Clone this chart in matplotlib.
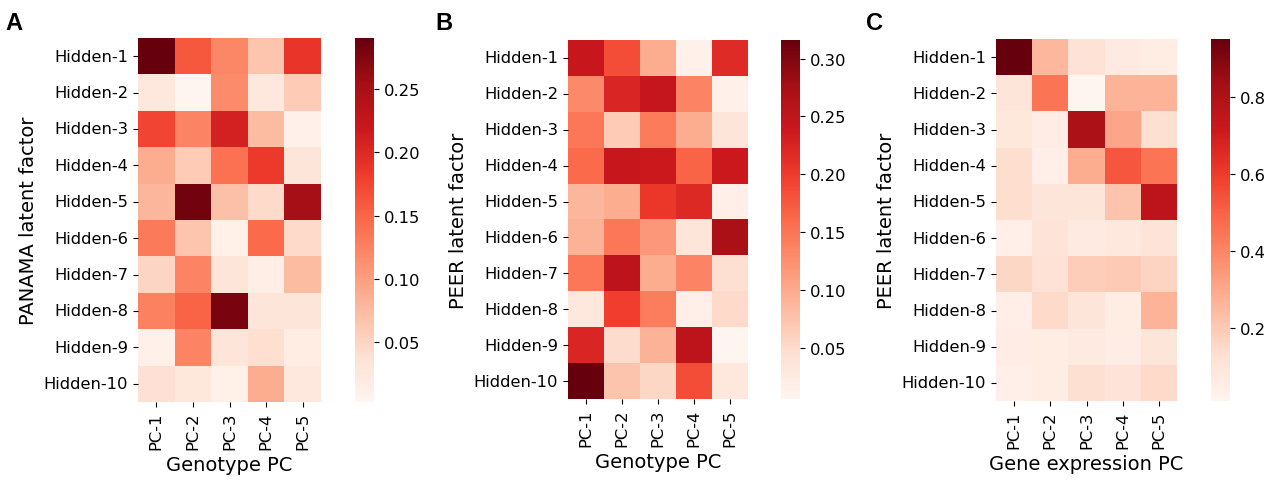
import matplotlib
matplotlib.use("Agg")
import matplotlib.pyplot as plt
import numpy as np
import pandas as pd
import seaborn as sns

factors = [f"Hidden-{i}" for i in range(1, 11)]
pcs = ["PC-1", "PC-2", "PC-3", "PC-4", "PC-5"]

# A: PANAMA latent factors vs genotype PCs
panama_geno = [
    [0.290, 0.160, 0.120, 0.065, 0.190],
    [0.025, 0.003, 0.117, 0.025, 0.060],
    [0.175, 0.123, 0.210, 0.074, 0.010],
    [0.088, 0.060, 0.140, 0.184, 0.030],
    [0.080, 0.284, 0.071, 0.045, 0.252],
    [0.132, 0.065, 0.013, 0.146, 0.045],
    [0.050, 0.123, 0.031, 0.016, 0.074],
    [0.126, 0.152, 0.279, 0.031, 0.031],
    [0.010, 0.123, 0.031, 0.040, 0.019],
    [0.037, 0.028, 0.013, 0.088, 0.025],
]

# B: PEER latent factors vs genotype PCs
peer_geno = [
    [0.242, 0.186, 0.098, 0.014, 0.217],
    [0.130, 0.223, 0.245, 0.136, 0.014],
    [0.148, 0.067, 0.145, 0.098, 0.036],
    [0.160, 0.242, 0.239, 0.167, 0.239],
    [0.089, 0.098, 0.204, 0.220, 0.017],
    [0.092, 0.148, 0.117, 0.036, 0.270],
    [0.148, 0.254, 0.098, 0.136, 0.045],
    [0.030, 0.198, 0.142, 0.017, 0.052],
    [0.223, 0.049, 0.092, 0.254, 0.006],
    [0.316, 0.074, 0.055, 0.186, 0.030],
]

# C: PEER latent factors vs gene expression PCs
peer_expr = [
    [0.950, 0.260, 0.120, 0.075, 0.066],
    [0.100, 0.450, 0.012, 0.270, 0.270],
    [0.094, 0.057, 0.810, 0.310, 0.130],
    [0.140, 0.048, 0.290, 0.530, 0.450],
    [0.140, 0.100, 0.100, 0.220, 0.760],
    [0.048, 0.110, 0.075, 0.085, 0.110],
    [0.160, 0.120, 0.190, 0.200, 0.170],
    [0.050, 0.150, 0.100, 0.066, 0.270],
    [0.057, 0.066, 0.075, 0.057, 0.100],
    [0.048, 0.066, 0.130, 0.110, 0.150],
]

panels = [
    ("A", panama_geno, "PANAMA latent factor", "Genotype PC",
     [0.1084, 0.1622, 0.1438, 0.7568], [0.2789, 0.1622, 0.0149, 0.7568], 0.004),
    ("B", peer_geno, "PEER latent factor", "Genotype PC",
     [0.4462, 0.1684, 0.1414, 0.7464], [0.6135, 0.1684, 0.0149, 0.7464], 0.342),
    ("C", peer_expr, "PEER latent factor", "Gene expression PC",
     [0.7824, 0.1642, 0.1422, 0.7526], [0.9513, 0.1642, 0.0149, 0.7526], 0.680),
]

fig = plt.figure(figsize=(12.73, 4.81), dpi=100)

for letter, vals, ylab, xlab, hpos, cpos, lx in panels:
    df = pd.DataFrame(vals, index=factors, columns=pcs)
    ax = fig.add_axes(hpos)
    cax = fig.add_axes(cpos)
    sns.heatmap(df, ax=ax, cbar_ax=cax, cmap="Reds")
    ax.set_xticklabels(pcs, rotation=90, fontsize=11.8)
    ax.set_yticklabels(factors, rotation=0, fontsize=11.8)
    ax.set_xlabel(xlab, fontsize=14)
    ax.set_ylabel(ylab, fontsize=14)
    cax.tick_params(labelsize=11.8)
    fig.text(lx, 0.975, letter, fontsize=17, fontweight="bold",
             family="Liberation Sans", va="top", ha="left")

fig.savefig("out.png", dpi=100)
